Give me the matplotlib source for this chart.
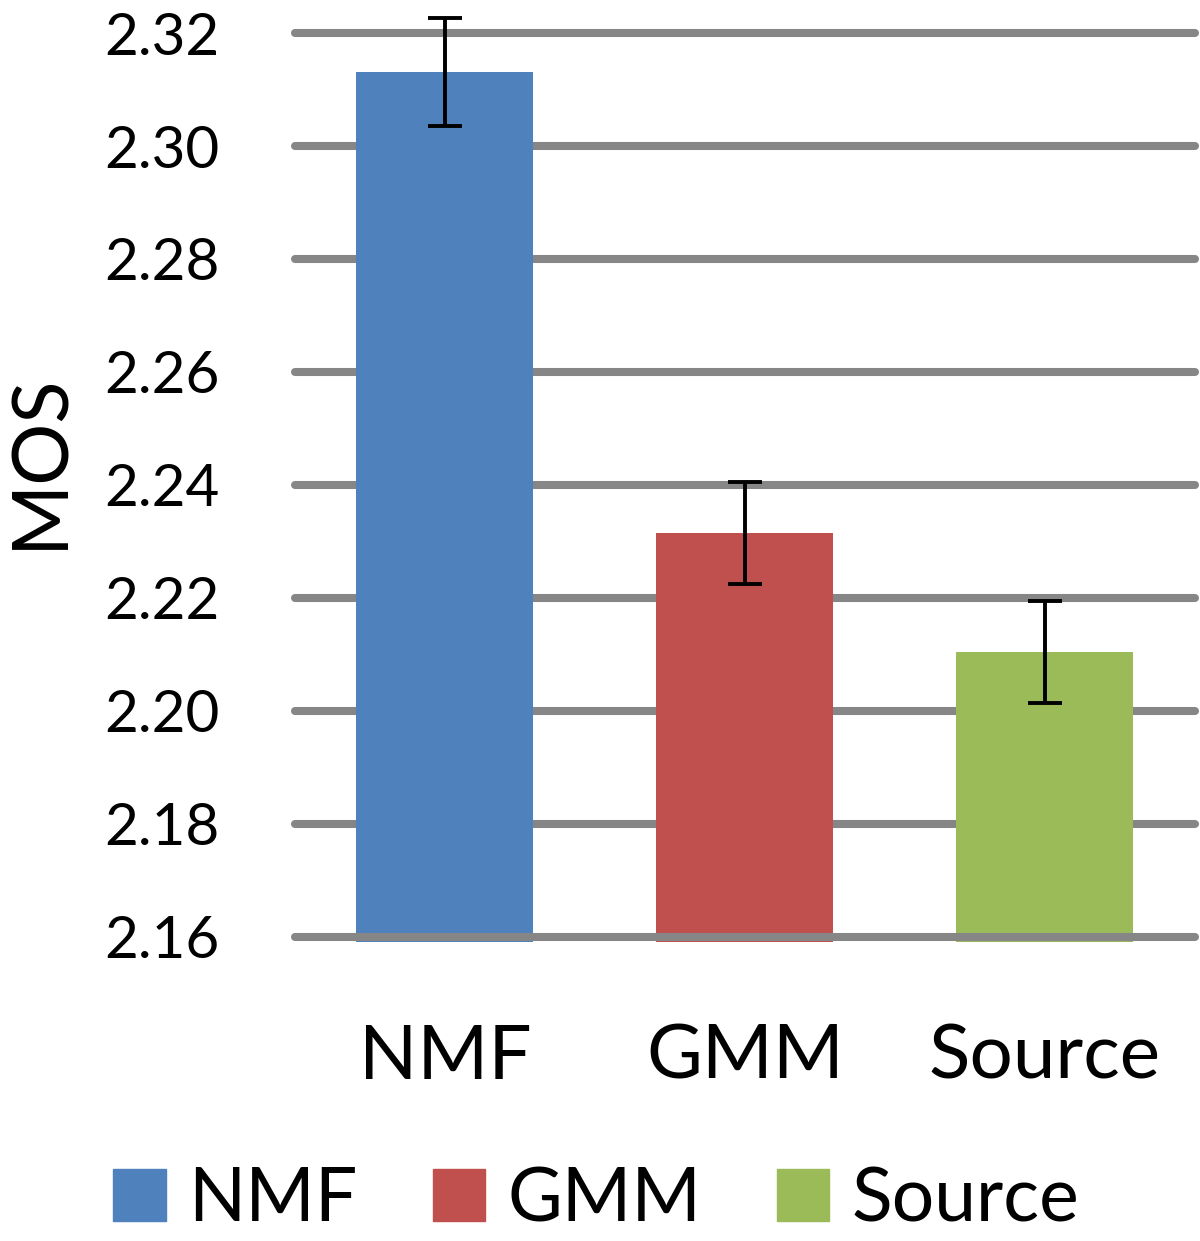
import matplotlib.pyplot as plt
from matplotlib.patches import Patch

categories = ["NMF", "GMM", "Source"]
mos = [2.3131, 2.2315, 2.2104]
errors = [0.0095, 0.009, 0.009]
colors = ["#4F81BD", "#C0504D", "#9BBB59"]
yticks = [2.16, 2.18, 2.20, 2.22, 2.24, 2.26, 2.28, 2.30, 2.32]

plt.rcParams["font.family"] = ["Lato", "DejaVu Sans"]

fig = plt.figure(figsize=(12, 12.41), dpi=100)
ax = fig.add_axes([0.2458, 0.2409, 0.75, 0.7325])

base = 2.1591
x = range(len(categories))
ax.bar(x, [v - base for v in mos], bottom=base, width=0.59, color=colors, zorder=2)
ax.errorbar(x, mos, yerr=errors, fmt="none", ecolor="black", elinewidth=2.8,
            capsize=12, capthick=2.8, zorder=4, clip_on=False)

# grid lines, bottom one drawn over the bars
for yv in yticks:
    ax.axhline(yv, color="#868686", lw=5.8, solid_capstyle="round",
               zorder=3 if yv == yticks[0] else 1, clip_on=False)

ax.set_xlim(-0.5, 2.5)
ax.set_ylim(base, 2.32)
ax.set_yticks(yticks)
ax.set_yticklabels([f"{v:.2f}" for v in yticks], fontsize=42)
ax.set_xticks(list(x))
ax.set_xticklabels(categories, fontsize=55)
ax.tick_params(axis="y", length=0, pad=54)
ax.tick_params(axis="x", length=0, pad=58)
for s in ax.spines.values():
    s.set_visible(False)
ax.set_ylabel("MOS", fontsize=56)
ax.yaxis.set_label_coords(-0.243, 0.53)

handles = [Patch(color=c, label=l) for c, l in zip(colors, categories)]
fig.legend(handles=handles, loc="lower center", bbox_to_anchor=(0.497, -0.049),
           ncol=3, frameon=False, fontsize=54, handlelength=0.7,
           handleheight=0.7, handletextpad=0.3, columnspacing=1.0)

fig.savefig("out.png", dpi=100)
